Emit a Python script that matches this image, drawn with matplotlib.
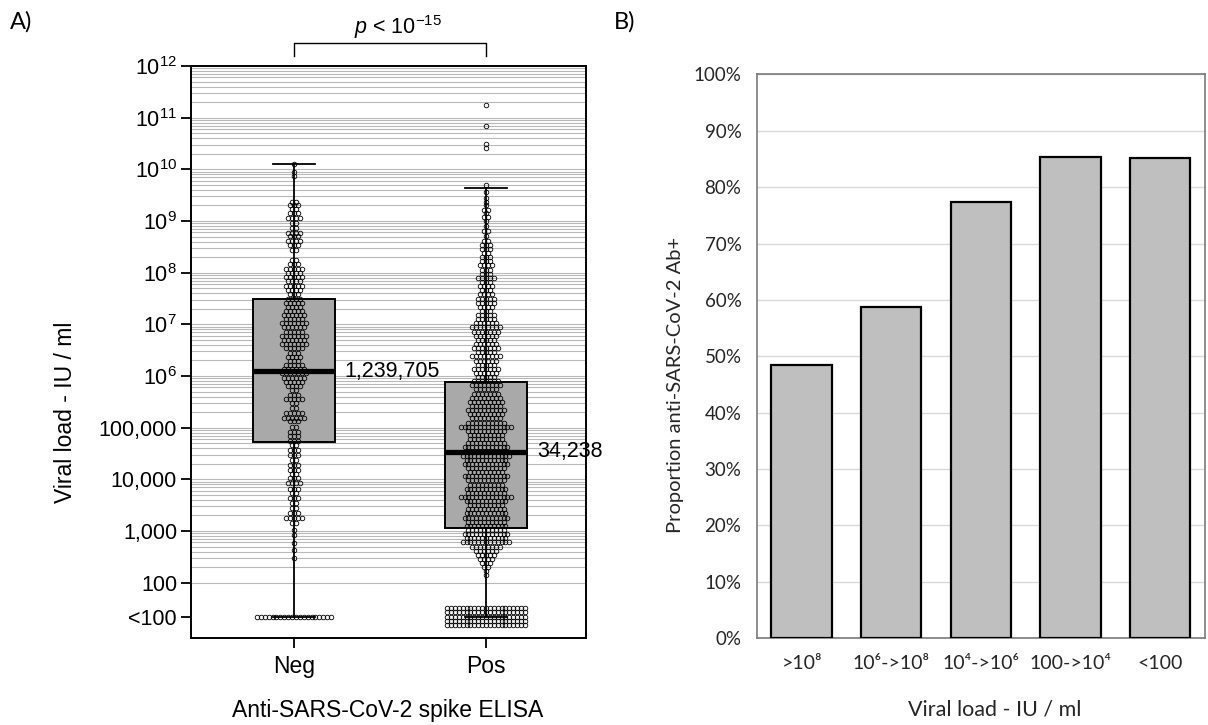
import numpy as np
import matplotlib.pyplot as plt
from matplotlib.ticker import FixedLocator, NullFormatter

plt.rcParams['mathtext.fontset'] = 'custom'
plt.rcParams['mathtext.rm'] = 'Liberation Sans'
plt.rcParams['mathtext.it'] = 'Liberation Sans:italic'

# ---- panel A data ----
groups = ['Neg', 'Pos']

# beeswarm rows: log10(IU/ml) of a row, and number of dots in it
neg_rows = [10.10, 9.95, 9.87, 9.37, 9.31, 9.23, 9.15, 9.05, 8.97, 8.86, 8.77, 8.70, 8.62,
            8.54, 8.44, 8.25, 8.16, 8.08, 8.00, 7.92, 7.83, 7.74, 7.66, 7.59, 7.50, 7.42,
            7.34, 7.26, 7.18, 7.10, 7.02, 6.94, 6.86, 6.78, 6.70, 6.62, 6.54, 6.45, 6.37,
            6.30, 6.21, 6.13, 6.05, 5.97, 5.89, 5.81, 5.73, 5.63, 5.55, 5.47, 5.38, 5.28,
            5.19, 5.12, 5.02, 4.92, 4.83, 4.75, 4.66, 4.57, 4.48, 4.37, 4.28, 4.19, 4.10,
            4.02, 3.92, 3.82, 3.73, 3.63, 3.54, 3.44, 3.34, 3.25, 3.15, 3.02, 2.92, 2.76,
            2.63, 2.47]
neg_counts = [1, 1, 1, 2, 3, 2, 3, 4, 2, 2, 4, 3, 4,
              3, 2, 2, 3, 5, 4, 5, 4, 5, 4, 3, 4, 5,
              4, 5, 6, 5, 7, 6, 5, 7, 6, 7, 5, 3, 4,
              3, 5, 6, 7, 6, 5, 4, 2, 3, 5, 2, 2, 5,
              6, 3, 2, 3, 3, 3, 2, 3, 3, 2, 3, 3, 2,
              3, 4, 3, 2, 3, 2, 2, 3, 5, 2, 1, 1, 1,
              1, 1]
neg_lod_n = 20

pos_rows = [11.24, 10.84, 10.49, 10.41,
            9.70, 9.56, 9.45, 9.37, 9.30, 9.22, 9.15, 9.08, 9.00, 8.90, 8.80, 8.70, 8.62,
            8.54, 8.46, 8.38, 8.30, 8.22, 8.14, 8.06, 7.98, 7.90, 7.82, 7.74, 7.66, 7.58,
            7.50, 7.42, 7.34, 7.26, 7.18, 7.10, 7.02, 6.94, 6.86, 6.78, 6.70, 6.62, 6.54,
            6.46, 6.38, 6.30, 6.22, 6.14, 6.06, 5.98, 5.90, 5.82, 5.74, 5.66, 5.58, 5.50,
            5.42, 5.34, 5.26, 5.18, 5.10, 5.02, 4.94, 4.86, 4.78, 4.70, 4.62, 4.54, 4.46,
            4.38, 4.30, 4.22, 4.14, 4.06, 3.98, 3.90, 3.82, 3.74, 3.66, 3.58, 3.50, 3.42,
            3.34, 3.26, 3.18, 3.10, 3.02, 2.94, 2.86, 2.78, 2.70, 2.62, 2.54, 2.46, 2.38,
            2.30, 2.22, 2.14]
pos_counts = [1, 1, 1, 1,
              1, 1, 1, 1, 1, 2, 1, 2, 1, 1, 2, 1, 2,
              3, 3, 2, 3, 3, 4, 3, 3, 5, 3, 4, 3, 4,
              5, 5, 4, 3, 5, 5, 6, 8, 7, 6, 5, 6, 7,
              5, 8, 6, 5, 7, 6, 5, 7, 8, 6, 7, 8, 9,
              8, 10, 9, 8, 10, 14, 10, 9, 9, 10, 12, 11, 13,
              11, 12, 10, 9, 12, 10, 9, 11, 10, 14, 11, 9, 10,
              11, 12, 10, 11, 10, 12, 11, 13, 8, 6, 5, 4, 3,
              2, 1, 1]
pos_lod_n = 105

# box statistics, IU/ml
medians = [1239705, 34238]
q1 = [54000, 1170]
q3 = [3.1e7, 7.6e5]
whisk_hi = [1.26e10, 4.4e9]
lod_value = 22          # height where "<100" is drawn
median_labels = ['1,239,705', '34,238']

# ---- panel B data ----
bar_cats = ['>10⁸', '10⁶->10⁸', '10⁴->10⁶', '100->10⁴', '<100']
bar_vals = [48.4, 58.8, 77.4, 85.3, 85.1]

fig = plt.figure(figsize=(12.08, 7.25), dpi=100)
left_font = 'Liberation Sans'
right_font = ['Lato', 'DejaVu Sans']

# ================= panel A =================
ax = fig.add_axes([0.1581, 0.12, 0.3270, 0.789])
ax.set_yscale('log')
ax.set_ylim(10 ** 0.93, 1e12)
ax.set_xlim(-0.5365, 1.5208)

# horizontal gridlines from 100 upward
grid_y = [k * 10.0 ** d for d in range(2, 12) for k in range(1, 10)]
ax.hlines(grid_y, -0.6, 1.6, colors='#b8b8b8', lw=0.8, zorder=0)

stats = []
for i in range(2):
    stats.append(dict(med=medians[i], q1=q1[i], q3=q3[i], whislo=lod_value,
                      whishi=whisk_hi[i], fliers=[]))
ax.bxp(stats, positions=[0, 1], widths=0.427, patch_artist=True, showfliers=False,
       capwidths=0.22,
       boxprops=dict(facecolor='#a9a9a9', edgecolor='black', lw=1.4, zorder=2),
       medianprops=dict(color='black', lw=3.8, zorder=5, solid_capstyle='butt'),
       whiskerprops=dict(color='black', lw=1.3, zorder=4),
       capprops=dict(color='black', lw=1.3, zorder=4))

dx = 0.0203     # horizontal spacing between dots
row_h = 0.085   # vertical spacing of stacked "<100" rows, in decades


def swarm(pos, rows, counts, lod_n, per_row):
    xs, ys = [], []
    for lv, n in zip(rows, counts):
        off = (np.arange(n) - (n - 1) / 2) * dx
        xs.extend(pos + off)
        ys.extend([10 ** lv] * n)
    nrow = int(np.ceil(lod_n / per_row))
    left = lod_n
    for r in range(nrow):
        n = int(np.ceil(left / (nrow - r)))
        left -= n
        off = (np.arange(n) - (n - 1) / 2) * dx
        lv = np.log10(lod_value) + ((nrow - 1) / 2 - r) * row_h
        xs.extend(pos + off)
        ys.extend([10 ** lv] * n)
    ax.plot(xs, ys, 'o', ms=3.3, mfc='none', mec='black', mew=0.6, zorder=3)


swarm(0, neg_rows, neg_counts, neg_lod_n, 26)
swarm(1, pos_rows, pos_counts, pos_lod_n, 26)

for i in range(2):
    ax.text(i + (0.26 if i == 0 else 0.266), medians[i], median_labels[i],
            ha='left', va='center', fontsize=15.5, family=left_font)

ytick_vals = [lod_value, 1e2, 1e3, 1e4, 1e5] + [10.0 ** d for d in range(6, 13)]
ytick_labs = ['<100', '100', '1,000', '10,000', '100,000'] + \
             [r'$10^{%d}$' % d for d in range(6, 13)]
ax.yaxis.set_major_locator(FixedLocator(ytick_vals))
ax.set_yticklabels(ytick_labs)
ax.yaxis.set_minor_locator(FixedLocator([]))
ax.yaxis.set_minor_formatter(NullFormatter())
ax.set_xticks([0, 1])
ax.set_xticklabels(groups)
ax.tick_params(axis='both', direction='out', length=7, width=1.3, pad=3, labelsize=15.5)
ax.tick_params(axis='x', labelsize=16.5, pad=5)
for lab in ax.get_xticklabels() + ax.get_yticklabels():
    lab.set_family(left_font)
for sp in ax.spines.values():
    sp.set_linewidth(1.4)

fig.text(66 / 1208, 1 - 412 / 725, 'Viral load - IU / ml', rotation=90, ha='center',
         va='center', fontsize=16.5, family=left_font)
fig.text(388 / 1208, 1 - 710 / 725, 'Anti-SARS-CoV-2 spike ELISA', ha='center',
         va='center', fontsize=16.5, family=left_font)

# significance bracket
tr = ax.get_xaxis_transform()
ax.plot([0, 0, 1, 1], [1.0175, 1.040, 1.040, 1.0175], color='black', lw=1.0,
        transform=tr, clip_on=False)
ax.text(0.54, 1.068, r'$p$ < 10$^{-15}$', transform=tr, ha='center', va='center',
        fontsize=15.5, family=left_font)

# ================= panel B =================
ax2 = fig.add_axes([0.6264, 0.1196, 0.3711, 0.7779])
x = np.arange(len(bar_cats))
ax2.bar(x, bar_vals, width=0.67, color='#bfbfbf', edgecolor='black', lw=1.6, zorder=3)
ax2.set_xlim(-0.5, len(bar_cats) - 0.5)
ax2.set_ylim(0, 100)
ax2.set_yticks(np.arange(0, 101, 10))
ax2.set_yticklabels(['%d%%' % v for v in range(0, 101, 10)])
ax2.set_xticks(x)
ax2.set_xticklabels(bar_cats)
ax2.yaxis.grid(True, color='#d9d9d9', lw=1.0, zorder=0)
ax2.set_axisbelow(True)
ax2.tick_params(axis='both', length=0, labelsize=13.5, colors='#262626')
ax2.tick_params(axis='y', pad=11)
ax2.tick_params(axis='x', pad=12, labelsize=14)
for lab in ax2.get_xticklabels() + ax2.get_yticklabels():
    lab.set_family(right_font)
for sp in ax2.spines.values():
    sp.set_color('#7a7a7a')
    sp.set_linewidth(1.2)
fig.text(675 / 1208, 1 - 385 / 725, 'Proportion anti-SARS-CoV-2 Ab+', rotation=90,
         ha='center', va='center', fontsize=14.5, family=right_font, color='#262626')
fig.text(995 / 1208, 1 - 710 / 725, 'Viral load - IU / ml', ha='center', va='center',
         fontsize=15.5, family=right_font, color='#262626')

fig.text(10 / 1208, 1 - 22 / 725, 'A)', ha='left', va='center', fontsize=17,
         family=right_font)
fig.text(614 / 1208, 1 - 22 / 725, 'B)', ha='left', va='center', fontsize=17,
         family=right_font)

fig.savefig('out.png', dpi=100)
